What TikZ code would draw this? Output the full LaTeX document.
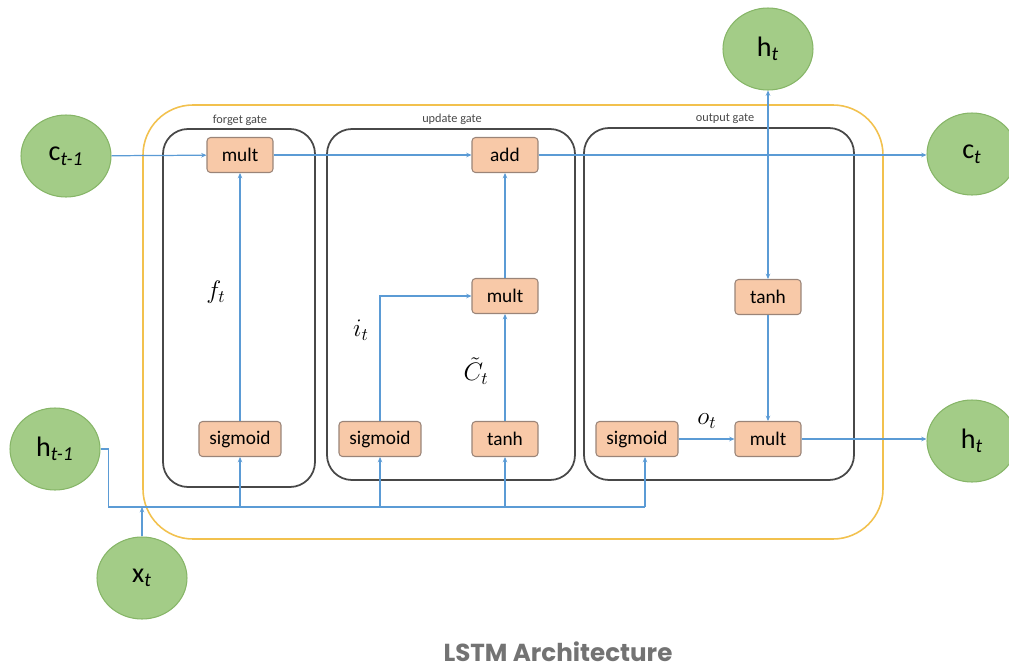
\documentclass[tikz,border=0pt]{standalone}
\usepackage{fontspec}
\setmainfont{Carlito}
\newfontfamily\captionfont{Poppins}
\usepackage{amsmath}
\usetikzlibrary{arrows.meta}
\usetikzlibrary{shapes.geometric}
\definecolor{flowblue}{HTML}{5B9BD5}
\definecolor{statefill}{HTML}{A3CC87}
\definecolor{stateline}{HTML}{86B567}
\definecolor{opfill}{HTML}{F8C9A8}
\definecolor{opline}{HTML}{9A8478}
\definecolor{gateline}{HTML}{484848}
\definecolor{cellline}{HTML}{F2C14E}
\tikzset{
  state/.style={ellipse, fill=statefill, draw=stateline, line width=0.6pt,
    minimum width=1.8cm, minimum height=1.64cm, inner sep=0pt,
    font=\fontsize{16}{16}\selectfont},
  op/.style={rectangle, rounded corners=2pt, fill=opfill, draw=opline, line width=0.6pt,
    minimum width=1.32cm, minimum height=0.7cm, inner sep=1pt,
    font=\fontsize{11}{11}\selectfont},
  wideop/.style={op, minimum width=1.64cm},
  flow/.style={draw=flowblue, line width=0.7pt, -{Stealth[length=3pt,width=2.6pt]}},
  gatebox/.style={draw=gateline, line width=1pt, rounded corners=0.5cm},
  gatename/.style={font=\fontsize{7}{7}\selectfont, text=gateline},
  mathlbl/.style={font=\fontsize{14}{14}\selectfont, inner sep=1pt}
}
\newcommand{\sub}[1]{\textsubscript{\itshape #1}}
\begin{document}
\begin{tikzpicture}[x=0.02cm, y=-0.02cm]
  \useasboundingbox (0,0) rectangle (1009,670);

  % cell outline
  \draw[cellline, line width=0.9pt, rounded corners=1cm] (143,105) rectangle (883,539);

  % gates
  \draw[gatebox] (163,129) rectangle (315,487);
  \draw[gatebox] (327,129) rectangle (575,480);
  \draw[gatebox] (584,128) rectangle (854,480);
  \node[gatename] (fname) at (240,120) {forget gate};
  \node[gatename] (uname) at (452,119) {update gate};
  \node[gatename] (oname) at (725,119) {output gate};

  % states
  \node[state] (cprev) at (66,156) {c\sub{t-1}};
  \node[state] (hprev) at (55,449) {h\sub{t-1}};
  \node[state] (xin) at (142,578) {x\sub{t}};
  \node[state] (htop) at (768,49) {h\sub{t}};
  \node[state] (cnext) at (972,154) {c\sub{t}};
  \node[state] (hnext) at (972,441) {h\sub{t}};

  % operations
  \node[op] (fmult) at (240,155) {mult};
  \node[wideop] (fsig) at (240,439) {sigmoid};
  \node[op] (add) at (505,155) {add};
  \node[op] (umult) at (505,296) {mult};
  \node[wideop] (isig) at (380,439) {sigmoid};
  \node[op] (utanh) at (505,439) {tanh};
  \node[op] (otanh) at (768,297) {tanh};
  \node[wideop] (osig) at (637,439) {sigmoid};
  \node[op] (omult) at (768,439) {mult};

  % cell state line
  \draw[flow] (cprev) -- (fmult);
  \draw[flow] (fmult) -- (add);
  \draw[flow] (add) -- (add -| cnext.west);

  % forget gate
  \draw[flow] (fsig) -- (fmult);
  \node[mathlbl] (flbl) at (216,292) {$f_t$};

  % update gate
  \draw[flow] (isig.north) |- (umult.west);
  \draw[flow] (utanh) -- (umult);
  \draw[flow] (umult) -- (add);
  \node[mathlbl] (ilbl) at (361,330) {$i_t$};
  \node[mathlbl] (clbl) at (476,371) {$\tilde{C}_t$};

  % output gate
  \coordinate (split) at (768,155);
  \draw[flow] (split) -- (htop);
  \draw[flow] (split) -- (otanh);
  \draw[flow] (otanh) -- (omult);
  \draw[flow] (osig) -- (omult);
  \draw[flow] (omult) -- (omult -| hnext.west);
  \node[mathlbl] (olbl) at (707,421) {$o_t$};

  % inputs
  \coordinate (busR) at (645,507);
  \draw[flowblue, line width=0.7pt] (hprev.east) -- ++(8,0) |- (busR);
  \draw[flow] (busR) -- (busR |- osig.south);
  \foreach \g in {fsig, isig, utanh}
    \draw[flow] (\g.south |- busR) -- (\g.south);
  \draw[flow] (xin) -- (xin |- busR);

  % caption
  \node[font=\captionfont\bfseries\fontsize{14}{14}\selectfont, text=black!55, inner sep=1pt] (title) at (558,652) {LSTM Architecture};
\end{tikzpicture}
\end{document}
